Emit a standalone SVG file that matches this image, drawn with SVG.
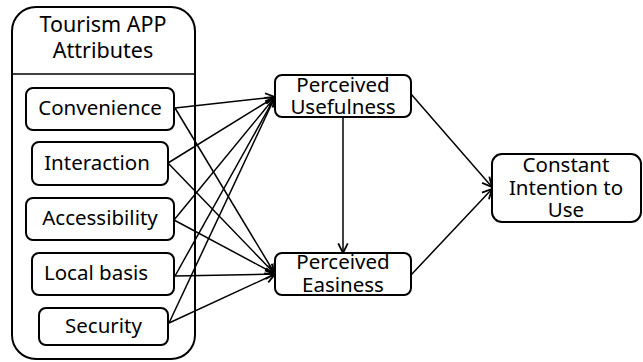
<svg xmlns="http://www.w3.org/2000/svg" width="643" height="362" viewBox="0 0 643 362">
  <style>
    .box { fill: #fff; stroke: #000; stroke-width: 2; }
    .frame { fill: none; stroke: #000; stroke-width: 2; }
    .lbl { font-family: "Noto Sans", "Open Sans", sans-serif; font-size: 20.5px; fill: #000; text-anchor: middle; }
    .head { font-size: 21.5px; }
    .conn { fill: none; stroke: #000; stroke-width: 1.5; }
  </style>
  <defs>
    <marker id="arrow" markerUnits="userSpaceOnUse" markerWidth="12" markerHeight="12" viewBox="0 0 10 10" refX="9" refY="5" orient="auto">
      <path d="M1,1 L9,5 L1,9" fill="none" stroke="#000" stroke-width="1.5"/>
    </marker>
  </defs>
  <rect width="643" height="362" fill="#fff"/>

  <!-- attribute container -->
  <g id="attributes">
    <rect class="frame" x="12" y="7" width="183" height="352" rx="24"/>
    <line x1="12" y1="74" x2="195" y2="74" stroke="#000" stroke-width="1.5"/>
    <text class="lbl head" x="103" y="32">Tourism APP</text>
    <text class="lbl head" x="103" y="58">Attributes</text>
  </g>

  <!-- connectors -->
  <g id="connectors">
    <line class="conn" x1="175" y1="108" x2="275" y2="97" marker-end="url(#arrow)"/>
    <line class="conn" x1="175" y1="108" x2="275" y2="274" marker-end="url(#arrow)"/>
    <line class="conn" x1="168" y1="163" x2="275" y2="97" marker-end="url(#arrow)"/>
    <line class="conn" x1="168" y1="163" x2="275" y2="274" marker-end="url(#arrow)"/>
    <line class="conn" x1="174" y1="220" x2="275" y2="97" marker-end="url(#arrow)"/>
    <line class="conn" x1="174" y1="220" x2="275" y2="274" marker-end="url(#arrow)"/>
    <line class="conn" x1="175" y1="276" x2="275" y2="97" marker-end="url(#arrow)"/>
    <line class="conn" x1="175" y1="276" x2="275" y2="274" marker-end="url(#arrow)"/>
    <line class="conn" x1="169" y1="323" x2="275" y2="97" marker-end="url(#arrow)"/>
    <line class="conn" x1="169" y1="323" x2="275" y2="274" marker-end="url(#arrow)"/>
    <line class="conn" x1="343" y1="117" x2="343" y2="253" marker-end="url(#arrow)"/>
    <line class="conn" x1="411" y1="94" x2="492" y2="187" marker-end="url(#arrow)"/>
    <line class="conn" x1="411" y1="275" x2="492" y2="189" marker-end="url(#arrow)"/>
  </g>

  <g id="convenience">
    <rect class="box" x="26" y="88" width="148" height="42" rx="7"/>
    <text class="lbl" x="100" y="115">Convenience</text>
  </g>
  <g id="interaction">
    <rect class="box" x="32" y="142" width="136" height="43" rx="7"/>
    <text class="lbl" x="97" y="170">Interaction</text>
  </g>
  <g id="accessibility">
    <rect class="box" x="26" y="198" width="148" height="42" rx="7"/>
    <text class="lbl" x="100" y="225">Accessibility</text>
  </g>
  <g id="local-basis">
    <rect class="box" x="32" y="253" width="142" height="42" rx="7"/>
    <text class="lbl" x="96" y="280">Local basis</text>
  </g>
  <g id="security">
    <rect class="box" x="39" y="308" width="129" height="37" rx="7"/>
    <text class="lbl" x="103.5" y="333">Security</text>
  </g>

  <g id="perceived-usefulness">
    <rect class="box" x="275" y="75" width="136" height="42" rx="7"/>
    <text class="lbl" x="343" y="92">Perceived</text>
    <text class="lbl" x="343" y="114">Usefulness</text>
  </g>
  <g id="perceived-easiness">
    <rect class="box" x="275" y="253" width="136" height="42" rx="7"/>
    <text class="lbl" x="343" y="269">Perceived</text>
    <text class="lbl" x="343" y="292">Easiness</text>
  </g>
  <g id="constant-intention">
    <rect class="box" x="492" y="154" width="149" height="68" rx="10"/>
    <text class="lbl" x="566" y="172">Constant</text>
    <text class="lbl" x="566" y="195">Intention to</text>
    <text class="lbl" x="566" y="217">Use</text>
  </g>
</svg>
